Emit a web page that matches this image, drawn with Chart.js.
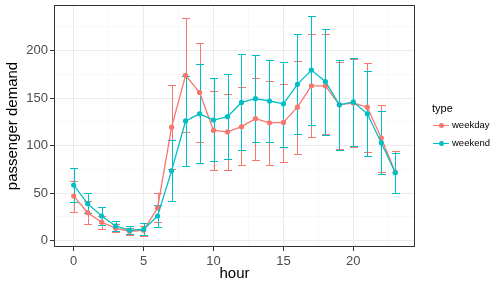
<!DOCTYPE html>
<html>
<head>
<meta charset="utf-8">
<script src="https://cdn.jsdelivr.net/npm/chart.js@4.4.0/dist/chart.umd.min.js"></script>
<style>
  html, body { margin: 0; padding: 0; background: #fff; }
  #wrap { position: relative; width: 498px; height: 285px; }
  canvas { display: block; }
  .legend { position: absolute; left: 432px; top: 101px; font-family: "Liberation Sans", Arial, sans-serif; color: #000; }
  .legend-title { font-size: 11px; line-height: 14px; margin-bottom: 2px; }
  .legend-row { position: relative; height: 17.5px; }
  .legend-key { position: absolute; left: 1px; top: 8px; width: 16px; height: 1.2px; }
  .legend-key span { position: absolute; left: 6px; top: -1.9px; width: 5px; height: 5px; border-radius: 50%; }
  .legend-label { position: absolute; left: 20px; top: 2px; font-size: 9.5px; line-height: 12px; }
</style>
</head>
<body>
<div id="wrap">
  <canvas id="chart" width="498" height="285"></canvas>
  <div class="legend" id="legend"></div>
</div>
<script>
// ==============================
//  DATA
// ==============================
const HOURS = [0, 1, 2, 3, 4, 5, 6, 7, 8, 9, 10, 11, 12, 13, 14, 15, 16, 17, 18, 19, 20, 21, 22, 23];

const WEEKDAY    = [47, 29.5, 19.5, 13, 10, 11, 34.5, 119.5, 174, 156, 116, 114.5, 120, 128.5, 124, 124.5, 140.5, 163, 163, 143, 145, 140.5, 108, 72];
const WEEKDAY_LO = [30.5, 18, 12, 9.5, 6, 4.5, 20, 75, 114, 104, 74.5, 74, 79.5, 85, 80, 83, 91.5, 109.5, 112, 96.5, 99, 93.5, 72.5, 50.5];
const WEEKDAY_HI = [63, 41.5, 26.5, 17.5, 13, 15, 50, 164, 234, 207.5, 157.5, 154, 162, 171, 168, 165, 189.5, 217, 217.5, 188.5, 191, 186.5, 143, 94.5];

const WEEKEND    = [58.5, 39, 26, 15.5, 11, 12, 26, 73.5, 126, 133.5, 127, 130.5, 145.5, 149.5, 147, 144, 164.5, 179.5, 167.5, 143, 146, 133.5, 103, 71.5];
const WEEKEND_LO = [40.5, 29, 17, 10.5, 7, 6, 14.5, 42, 79, 81.5, 84, 85.5, 95.5, 103.5, 103.5, 99, 112.5, 122, 111, 95.5, 99.5, 89.5, 70, 50.5];
const WEEKEND_HI = [76, 50.5, 35, 20.5, 15, 18.5, 37.5, 106, 173, 186, 171, 175, 196, 195.5, 190, 188.5, 217, 236, 223, 190, 192.5, 178.5, 136, 92.5];

const X_MAJOR = [0, 5, 10, 15, 20];
const X_MINOR = [2.5, 7.5, 12.5, 17.5, 22.5];
const Y_MAJOR = [0, 50, 100, 150, 200];
const Y_MINOR = [25, 75, 125, 175, 225];

const RED  = '#F8766D';
const CYAN = '#00BFC4';
const FONT = '"Liberation Sans", Arial, sans-serif';

// ==============================
//  HELPERS
// ==============================
const toPoints = vals => HOURS.map((h, i) => ({ x: h, y: vals[i] }));
const crisp = p => Math.round(p) + 0.5;

function tickList(major, minor) {
  return [...major, ...minor].sort((a, b) => a - b).map(v => ({ value: v }));
}

function gridOpts(major) {
  const isMajor = c => c.tick && major.includes(c.tick.value);
  return {
    color: c => isMajor(c) ? '#EBEBEB' : '#F4F4F4',
    lineWidth: c => isMajor(c) ? 1 : 0.6,
    tickColor: c => isMajor(c) ? '#333333' : 'rgba(0,0,0,0)',
    tickWidth: 1,
    tickLength: 4,
    drawTicks: true,
  };
}

// error bars drawn under the lines, through the chart's scales
const errorBars = {
  id: 'errorBars',
  beforeDatasetsDraw(chart) {
    const { ctx, chartArea, scales: { x, y } } = chart;
    const series = [
      { color: RED,  lo: WEEKDAY_LO, hi: WEEKDAY_HI },
      { color: CYAN, lo: WEEKEND_LO, hi: WEEKEND_HI },
    ];
    ctx.save();
    ctx.beginPath();
    ctx.rect(chartArea.left, chartArea.top, chartArea.width, chartArea.height);
    ctx.clip();
    ctx.lineWidth = 1;
    series.forEach(s => {
      ctx.strokeStyle = s.color;
      HOURS.forEach((h, i) => {
        const xc = crisp(x.getPixelForValue(h));
        const x0 = Math.round(x.getPixelForValue(h - 0.25));
        const x1 = Math.round(x.getPixelForValue(h + 0.25)) + 1;
        const yl = crisp(y.getPixelForValue(s.lo[i]));
        const yh = crisp(y.getPixelForValue(s.hi[i]));
        ctx.beginPath();
        ctx.moveTo(xc, yl); ctx.lineTo(xc, yh);
        ctx.moveTo(x0, yl); ctx.lineTo(x1, yl);
        ctx.moveTo(x0, yh); ctx.lineTo(x1, yh);
        ctx.stroke();
      });
    });
    ctx.restore();
  },
  afterDraw(chart) {
    const { ctx, chartArea: a } = chart;
    ctx.save();
    ctx.strokeStyle = '#333333';
    ctx.lineWidth = 1;
    ctx.strokeRect(a.left + 0.5, a.top + 0.5, a.width - 1, a.height - 1);
    ctx.restore();
  }
};

// ==============================
//  CHART
// ==============================
new Chart(document.getElementById('chart'), {
  type: 'line',
  data: {
    datasets: [
      { label: 'weekend', data: toPoints(WEEKEND), borderColor: CYAN, backgroundColor: CYAN,
        borderWidth: 1.3, pointRadius: 2.6, pointBorderWidth: 0, tension: 0 },
      { label: 'weekday', data: toPoints(WEEKDAY), borderColor: RED, backgroundColor: RED,
        borderWidth: 1.3, pointRadius: 2.6, pointBorderWidth: 0, tension: 0 },
    ]
  },
  options: {
    responsive: false,
    animation: false,
    layout: { padding: { top: 5, right: 83, left: 0, bottom: 0 } },
    plugins: { legend: { display: false }, tooltip: { enabled: false } },
    scales: {
      x: {
        type: 'linear', min: -1.41, max: 24.41,
        afterBuildTicks: s => { s.ticks = tickList(X_MAJOR, X_MINOR); },
        afterFit: s => { s.height = 38; s.paddingLeft = 0; s.paddingRight = 0; },
        grid: gridOpts(X_MAJOR),
        border: { display: false },
        ticks: {
          autoSkip: false, maxRotation: 0, padding: 3, color: '#4D4D4D',
          font: { family: FONT, size: 13 },
          callback: v => X_MAJOR.includes(v) ? String(v) : ''
        },
        title: { display: true, text: 'hour', color: '#000', padding: { top: 0, bottom: 2 },
                 font: { family: FONT, size: 15 } }
      },
      y: {
        type: 'linear', min: -6.6, max: 248,
        afterBuildTicks: s => { s.ticks = tickList(Y_MAJOR, Y_MINOR); },
        afterFit: s => { s.width = 54; s.paddingTop = 0; s.paddingBottom = 0; },
        grid: gridOpts(Y_MAJOR),
        border: { display: false },
        ticks: {
          autoSkip: false, padding: 2, color: '#4D4D4D',
          font: { family: FONT, size: 13 },
          callback: v => Y_MAJOR.includes(v) ? String(v) : ''
        },
        title: { display: true, text: 'passenger demand', color: '#000', padding: { top: 4, bottom: 0 },
                 font: { family: FONT, size: 15 } }
      }
    }
  },
  plugins: [errorBars]
});

// ==============================
//  LEGEND
// ==============================
const LEGEND = [['weekday', RED], ['weekend', CYAN]];
document.getElementById('legend').innerHTML =
  '<div class="legend-title">type</div>' +
  LEGEND.map(([name, col]) => `
    <div class="legend-row">
      <div class="legend-key" style="background:${col}"><span style="background:${col}"></span></div>
      <div class="legend-label">${name}</div>
    </div>`).join('');
</script>
</body>
</html>
